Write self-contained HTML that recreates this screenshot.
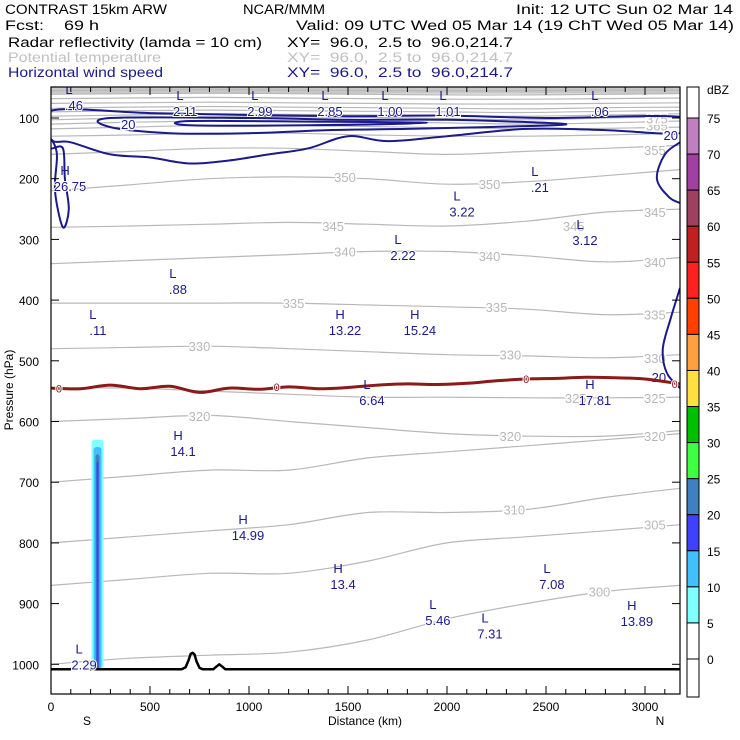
<!DOCTYPE html>
<html><head><meta charset="utf-8"><style>
html,body{margin:0;padding:0;background:#fff;}
svg{display:block;font-family:"Liberation Sans",sans-serif;}
</style></head><body>
<svg id="chart" width="740" height="740" viewBox="0 0 740 740">
<g font-size="13.5">
<text x="5" y="14" textLength="162" lengthAdjust="spacingAndGlyphs">CONTRAST 15km ARW</text>
<text x="243" y="14" textLength="82" lengthAdjust="spacingAndGlyphs">NCAR/MMM</text>
<text x="516" y="14" textLength="217" lengthAdjust="spacingAndGlyphs">Init: 12 UTC Sun 02 Mar 14</text>
<text x="5" y="30" textLength="94" lengthAdjust="spacingAndGlyphs" xml:space="preserve">Fcst:    69 h</text>
<text x="296" y="30" textLength="438" lengthAdjust="spacingAndGlyphs">Valid: 09 UTC Wed 05 Mar 14 (19 ChT Wed 05 Mar 14)</text>
<text x="8" y="47" textLength="254" lengthAdjust="spacingAndGlyphs">Radar reflectivity (lamda = 10 cm)</text>
<text x="287" y="47" textLength="226" lengthAdjust="spacingAndGlyphs" xml:space="preserve">XY=  96.0,  2.5 to  96.0,214.7</text>
<text x="8" y="62" fill="#c0c0c0" textLength="153" lengthAdjust="spacingAndGlyphs">Potential temperature</text>
<text x="287" y="62" fill="#c0c0c0" textLength="226" lengthAdjust="spacingAndGlyphs" xml:space="preserve">XY=  96.0,  2.5 to  96.0,214.7</text>
<text x="8" y="77" fill="#1a1a8c" textLength="155" lengthAdjust="spacingAndGlyphs">Horizontal wind speed</text>
<text x="287" y="77" fill="#1a1a8c" textLength="226" lengthAdjust="spacingAndGlyphs" xml:space="preserve">XY=  96.0,  2.5 to  96.0,214.7</text>
</g>
<defs><clipPath id="plotclip"><rect x="51" y="87" width="629" height="607"/></clipPath></defs>
<g id="plot" clip-path="url(#plotclip)"></g>
<g id="axes"></g>
<g id="cbar"></g>
<text x="13" y="390" font-size="12" text-anchor="middle" transform="rotate(-90 13 390)">Pressure (hPa)</text>
<text x="365" y="725" font-size="12" text-anchor="middle">Distance (km)</text>
<text x="87" y="725" font-size="12" text-anchor="middle">S</text>
<text x="660" y="725" font-size="12" text-anchor="middle">N</text>
</svg>
<script>
const NS="http://www.w3.org/2000/svg";
// ---- data ----
const thetaKm=[0,400,800,1200,1600,2000,2400,2800,3177];
const thetaLevels=[300,305,310,315,320,325,330,335,340,345,350,355,360,365,370,375,380,390,400,420,440,470,500];
const thetaP=[
[1000,990,985,980,960,925,900,880,870],
[870,860,850,850,830,800,790,780,770],
[800,790,780,770,750,750,745,725,710],
[700,690,680,680,660,650,640,630,620],
[600,595,590,600,610,620,624,624,615],
[545,545,550,555,560,560,561,561,560],
[480,478,476,480,485,490,492,495,490],
[405,405,405,405,408,411,415,424,420],
[340,335,330,325,320,320,327,337,330],
[280,278,275,272,275,278,270,255,250],
[220,210,200,197,200,209,205,195,185],
[160,155,150,150,155,160,155,150,145],
[130,128,125,125,128,130,130,128,125],
[118,115,112,112,114,116,118,117,115],
[110,107,105,105,106,108,110,108,105],
[103,100,98,98,99,101,103,100,98],
[97,95,93,94,95,96,97,95,93],
[90,88,87,88,89,90,91,89,88],
[84,82,81,82,83,84,85,83,82],
[76,75,74,75,76,77,77,76,75],
[68,67,66,67,68,69,69,68,67],
[61,60,59,60,61,62,62,61,60],
[55,54,53,54,55,55,55,54,54]];
const thetaLabelKm=[2770,3050,2340,3050,750,2320,3050,2650,3050,750,2320,3050,1225,2250,3050,1485,2215,3050,1425,2640,3050,1485,2215,3050,3060,3060];
const thetaLabelVal=[300,305,310,315,320,320,320,325,325,330,330,330,335,335,335,340,340,340,345,345,345,350,350,355,365,375];
const thetaLabelP=[880,770,745,625,591,624,624,561,561,476,490,495,405,411,424,320,327,337,278,278,255,197,209,153,112,101];
const freezeKm=[0,150,300,450,600,750,900,1050,1200,1350,1500,1650,1800,1950,2100,2250,2400,2550,2700,2850,3000,3177];
const freezeP=[545,546,540,546,542,552,545,547,543,546,544,540,538,539,537,533,530,529,527,528,530,538];
const terrainKm=[0,660,680,695,705,715,725,735,750,765,820,835,850,865,880,3177];
const terrainP=[1008,1008,1005,993,983,981,984,995,1006,1008,1008,1004,1000,1004,1008,1008];
const reflKm=[205,215,225,240,255,265];
const reflTop=[700,640,630,630,640,700];
const jet20=[[0,88],[500,92],[1000,95],[1500,97],[2000,96],[2500,100],[3177,98],[3177,125],[2800,120],[2400,118],[2000,130],[1700,138],[1500,130],[1300,150],[1100,160],[900,170],[700,175],[500,165],[300,160],[100,140],[0,135]];
const jet30=[[300,100],[1000,100],[1500,103],[2000,103],[2600,110],[2200,115],[1800,118],[1400,120],[1000,125],[600,125],[300,115]];
const jet40=[[700,105],[1300,106],[1900,108],[1300,112],[700,112]];
const windLeft=[[0,135],[30,160],[20,220],[60,280],[90,250],[70,200],[60,150],[0,150]];
const windRight1=[[3177,140],[3100,160],[3060,200],[3120,230],[3177,240]];
const windRight2=[[3177,380],[3130,430],[3090,480],[3110,520],[3177,545]];
const hlType=["L","L","L","L","L","L","L","H","L","L","L","L","L","L","H","H","L","H","H","H","H","L","L","L","H","L"];
const hlValue=[".46","2.11","2.99","2.85","1.00","1.01",".06","26.75",".21","3.22","3.12","2.22",".88",".11","13.22","15.24","6.64","17.81","14.1","14.99","13.4","7.08","5.46","7.31","13.89","2.29"];
const hlKm=[116,677,1055,1409,1712,2005,2772,96,2469,2076,2697,1778,641,237,1485,1863,1621,2747,667,995,1475,2530,1954,2217,2959,167];
const hlP=[77,87,87,87,87,87,87,210,212,252,299,324,380,448,448,448,563,563,647,785,866,866,925,948,927,999];
const xTicks=[0,500,1000,1500,2000,2500,3000];
const yTicks=[100,200,300,400,500,600,700,800,900,1000];
const cbarLevels=[75,70,65,60,55,50,45,40,35,30,25,20,15,10,5,0];
const cbarColors=["#ffffff","#c080c0","#a040a0","#a04060","#c02020","#ff2020","#ff4000","#ffa040","#ffe040","#00c000","#40ff40","#4080c0","#4040ff","#40c0ff","#80ffff","#ffffff","#ffffff"];
// ---- scales ----
const X=km=>51+km*0.198;
const Y=p=>118+(p-100)*0.607;
function el(tag,attrs,parent){const e=document.createElementNS(NS,tag);for(const k in attrs)e.setAttribute(k,attrs[k]);parent.appendChild(e);return e;}
const plot=document.getElementById('plot'),axes=document.getElementById('axes'),cbar=document.getElementById('cbar');
function smooth(pts,closed){let d="M"+pts[0][0].toFixed(1)+","+pts[0][1].toFixed(1);
 const n=pts.length;const get=i=>closed?pts[(i+n)%n]:pts[Math.max(0,Math.min(n-1,i))];
 const m=closed?n:n-1;
 for(let i=0;i<m;i++){const p0=get(i-1),p1=get(i),p2=get(i+1),p3=get(i+2);
  d+=" C"+(p1[0]+(p2[0]-p0[0])/6).toFixed(1)+","+(p1[1]+(p2[1]-p0[1])/6).toFixed(1)+" "+(p2[0]-(p3[0]-p1[0])/6).toFixed(1)+","+(p2[1]-(p3[1]-p1[1])/6).toFixed(1)+" "+p2[0].toFixed(1)+","+p2[1].toFixed(1);}
 return d+(closed?"Z":"");}
const band=el('rect',{x:51,y:Y(45),width:629,height:Y(60)-Y(45),fill:'#c8c8c8'},plot);


thetaLevels.forEach((lv,i)=>{const pts=thetaKm.map((k,j)=>[X(k),Y(thetaP[i][j])]);
 const p=el('path',{d:smooth(pts,false),fill:'none',stroke:'#b8b8b8','stroke-width':1.2},plot);
 
 });
thetaLabelVal.forEach((v,i)=>{const t=el('text',{x:X(thetaLabelKm[i]),y:Y(thetaLabelP[i])+5,'font-size':13,fill:'#b8b8b8','text-anchor':'middle',stroke:'#fff','stroke-width':3,'paint-order':'stroke'},plot);t.textContent=v;
 
 });
[[0,'#80ffff',0],[1,'#40c0ff',2],[2,'#4080c0',4],[3,'#4040ff',5]].forEach(([k,c,inset])=>{
 const top=Math.min(...reflTop)+k*12;
 const r=el('rect',{x:X(reflKm[0])+inset,y:Y(top),width:X(reflKm[5])-X(reflKm[0])-2*inset,height:Y(1008)-Y(top),fill:c,rx:3},plot);
 
 });
[[jet20,true],[jet30,true],[jet40,true],[windLeft,true],[windRight1,false],[windRight2,false]].forEach(([arr,cl],i)=>{
 const p=el('path',{d:smooth(arr.map(a=>[X(a[0]),Y(a[1])]),cl),fill:'none',stroke:'#1a1a8c','stroke-width':2},plot);
 
 });
[[390,110],[3130,128],[3070,527]].forEach((a,i)=>{const t=el('text',{x:X(a[0]),y:Y(a[1])+5,'font-size':13,fill:'#1a1a8c','text-anchor':'middle',stroke:'#fff','stroke-width':3,'paint-order':'stroke'},plot);t.textContent='20';
 
 });
const fz=el('path',{d:smooth(freezeKm.map((k,i)=>[X(k),Y(freezeP[i])]),false),fill:'none',stroke:'#8b1a1a','stroke-width':3},plot);


[40,1140,2400,3150].forEach(k=>{const i=freezeKm.findIndex(v=>v>=k);const t=el('text',{x:X(k),y:Y(freezeP[Math.max(0,i)])+4,'font-size':11,fill:'#8b1a1a','text-anchor':'middle',stroke:'#fff','stroke-width':2,'paint-order':'stroke'},plot);t.textContent='0';
 
 });
const tr=el('polyline',{points:terrainKm.map((k,i)=>X(k).toFixed(1)+','+Y(terrainP[i]).toFixed(1)).join(' '),fill:'none',stroke:'#000','stroke-width':2.5,'stroke-linejoin':'round'},plot);


hlType.forEach((t,i)=>{const x=X(hlKm[i]),y=Y(hlP[i]);
 const a=el('text',{x:x-5,y:y-10,'font-size':13,fill:'#1a1a8c','text-anchor':'middle'},plot);a.textContent=t;
 
 
 const b=el('text',{x:x,y:y+6,'font-size':13,fill:'#1a1a8c','text-anchor':'middle',stroke:'#fff','stroke-width':2,'paint-order':'stroke'},plot);b.textContent=hlValue[i];
 
 });
const frame=el('rect',{x:51,y:87,width:629,height:607,fill:'none',stroke:'#000','stroke-width':1.2},axes);


for(let k=0;k<=3100;k+=100){const x=X(k),L=(k%500===0)?8:5;
 el('line',{x1:x,y1:694,x2:x,y2:694-L,stroke:'#000'},axes);el('line',{x1:x,y1:87,x2:x,y2:87+L,stroke:'#000'},axes);}
xTicks.forEach(k=>{const t=el('text',{x:X(k),y:711,'font-size':12,'text-anchor':'middle'},axes);t.textContent=k;
 
 });
yTicks.forEach(p=>{const y=Y(p);el('line',{x1:51,y1:y,x2:59,y2:y,stroke:'#000'},axes);el('line',{x1:680,y1:y,x2:672,y2:y,stroke:'#000'},axes);
 const t=el('text',{x:39,y:y+5,'font-size':12,'text-anchor':'end'},axes);t.textContent=p;
 
 });
const cb0=87,step=(659-118)/15;
cbarColors.forEach((c,i)=>{const y0=i===0?cb0:118+(i-1)*step,y1=i===16?697:118+i*step;
 const r=el('rect',{x:687,y:y0,width:12,height:y1-y0,fill:c,stroke:'#000','stroke-width':1},cbar);
 
 });
cbarLevels.forEach((v,i)=>{const t=el('text',{x:707,y:118+i*step+5,'font-size':12},cbar);t.textContent=v;
 
 });
const u=el('text',{x:707,y:94,'font-size':12},cbar);u.textContent='dBZ';


</script>
</body></html>
